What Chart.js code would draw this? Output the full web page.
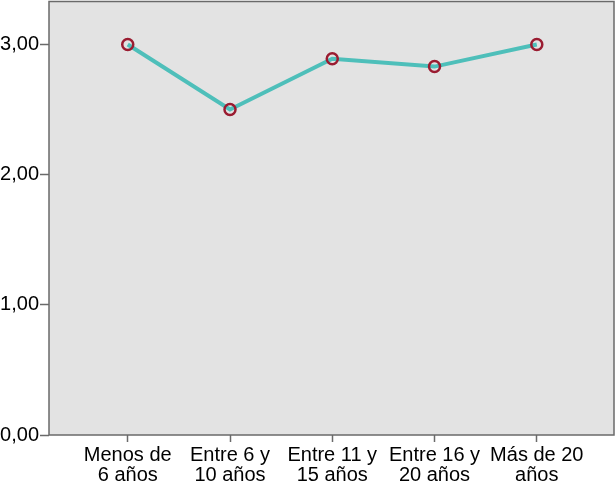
<!DOCTYPE html>
<html>
<head>
<meta charset="utf-8">
<script src="https://cdn.jsdelivr.net/npm/chart.js@4"></script>
<style>
	html, body { margin: 0; padding: 0; background: #fff; }
	#wrap { width: 616px; height: 487px; }
</style>
</head>
<body>
<div id="wrap"><canvas id="myChart" width="616" height="487"></canvas></div>
<script>
// categories and values
const categories = [
	["Menos de", "6 años"],
	["Entre 6 y", "10 años"],
	["Entre 11 y", "15 años"],
	["Entre 16 y", "20 años"],
	["Más de 20", "años"],
];
const values = [3.0, 2.5, 2.89, 2.83, 3.0];
const yTicks = [0, 1, 2, 3];
const yTickLabels = ["0,00", "1,00", "2,00", "3,00"];

const frame = {
	id: "frame",
	beforeDraw(chart) {
		const { ctx, chartArea: a } = chart;
		ctx.save();
		ctx.fillStyle = "#e3e3e3";
		ctx.fillRect(a.left, a.top, a.right - a.left, a.bottom - a.top);
		ctx.restore();
	},
	afterDatasetsDraw(chart) {
		const { ctx, chartArea: a } = chart;
		ctx.save();
		ctx.strokeStyle = "#6a6a6a";
		ctx.lineWidth = 1.5;
		ctx.strokeRect(a.left, a.top, a.right - a.left, a.bottom - a.top);
		ctx.restore();
	},
};

new Chart(document.getElementById("myChart"), {
	type: "line",
	data: {
		datasets: [
			{
				data: values.map((v, i) => ({ x: i, y: v })),
				borderColor: "#4ebfba",
				borderWidth: 4,
				tension: 0,
				pointRadius: 5.5,
				pointBorderWidth: 2.5,
				pointBorderColor: "#9a1c31",
				pointBackgroundColor: "rgba(0,0,0,0)",
			},
		],
	},
	plugins: [frame],
	options: {
		responsive: false,
		animation: false,
		layout: { autoPadding: false, padding: { top: 1.5, right: 2, left: 0, bottom: 0 } },
		plugins: { legend: { display: false }, tooltip: { enabled: false } },
		scales: {
			x: {
				type: "linear",
				min: -0.77,
				max: 4.755,
				afterBuildTicks: (s) => {
					s.ticks = categories.map((c, i) => ({ value: i }));
				},
				afterFit: (s) => {
					s.height = 52;
					s.paddingLeft = 0;
					s.paddingRight = 0;
				},
				ticks: {
					autoSkip: false,
					maxRotation: 0,
					color: "#000",
					padding: 3,
					font: { family: "Liberation Sans, Arial", size: 20, lineHeight: 1.0 },
					callback: (v) => categories[v],
				},
				grid: { drawOnChartArea: false, tickLength: 7, tickColor: "#6a6a6a", tickWidth: 1.5 },
				border: { display: false },
			},
			y: {
				min: 0,
				max: 3.33,
				afterBuildTicks: (s) => {
					s.ticks = yTicks.map((v) => ({ value: v }));
				},
				afterFit: (s) => {
					s.width = 49;
					s.paddingTop = 0;
					s.paddingBottom = 0;
				},
				ticks: {
					color: "#000",
					padding: 1,
					font: { family: "Liberation Sans, Arial", size: 20 },
					callback: (v) => yTickLabels[yTicks.indexOf(v)],
				},
				grid: { drawOnChartArea: false, tickLength: 9, tickColor: "#6a6a6a", tickWidth: 1.5 },
				border: { display: false },
			},
		},
	},
});
</script>
</body>
</html>
